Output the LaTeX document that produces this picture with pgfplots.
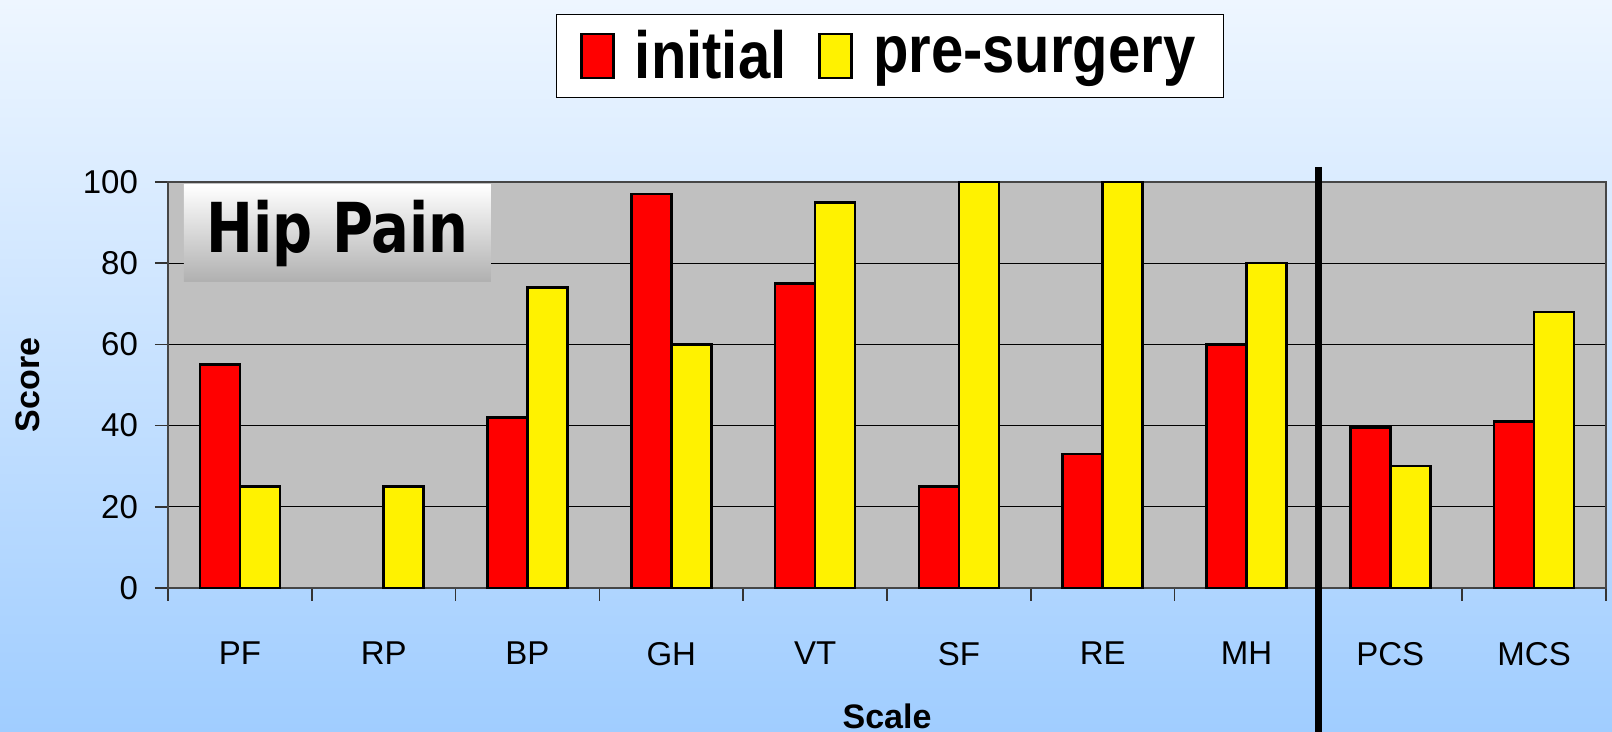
\documentclass[border=0pt]{standalone}
\usepackage{fontspec}
\setmainfont{Liberation Sans}
\newfontfamily\dejavu{DejaVu Sans}
\usepackage{pgfplots}
\pgfplotsset{compat=1.18}
\definecolor{bgtop}{RGB}{238,246,255}
\definecolor{bgbot}{RGB}{160,205,255}
\definecolor{plotgray}{RGB}{192,192,192}
\begin{document}
\begin{tikzpicture}
% background gradient (1px = 0.5pt)
\shade[top color=bgtop, bottom color=bgbot] (-84pt,-72pt) rectangle (722pt,294pt);
\begin{axis}[ybar=0pt, bar width=20pt, scale only axis, width=719pt, height=203pt,
    xmin=-0.5, xmax=9.5, ymin=0, ymax=100,
    xtick={-0.5,0.5,...,9.5}, x tick label as interval,
    xticklabels={PF,RP,BP,GH,VT,SF,RE,MH,PCS,MCS},
    ytick={0,20,...,100},
    xtick pos=bottom, ytick pos=left,
    tick align=outside, major tick length=6.5pt,
    tick style={gray!40!black, line width=0.8pt},
    axis background/.style={fill=plotgray},
    axis line style={gray!55!black, line width=1pt},
    ymajorgrids, major grid style={black, line width=0.5pt},
    tick label style={font=\fontsize{16.5}{20}\selectfont},
    /pgf/number format/assume math mode=true,
    xticklabel style={yshift=-17pt},
    yticklabel style={xshift=-5pt},
    xlabel={Scale}, ylabel={Score},
    every axis x label/.style={at={(axis description cs:0.5,-0.315)}, anchor=center,
        font=\fontsize{17}{20}\selectfont\bfseries},
    every axis y label/.style={at={(axis description cs:-0.0974,0.5)}, rotate=90, anchor=center,
        font=\fontsize{17}{20}\selectfont\bfseries},
    clip=false,
    legend columns=2,
    legend style={at={(0.502,1.31)}, anchor=center, draw=black, line width=0.6pt,
        fill=white, inner xsep=12pt, inner ysep=6pt,
        font=\fontsize{29}{34}\selectfont\bfseries, column sep=8pt},
    /tikz/every even column/.append style={column sep=14pt},
    legend image code/.code={\draw[#1, line width=1.3pt] (0pt,-11pt) rectangle (16pt,11pt);},
    ]
\addplot[fill=red, draw=black, line width=1.3pt] coordinates
    {(0,55) (2,42) (3,97) (4,75) (5,25) (6,33) (7,60) (8,39.5) (9,41)};
\addlegendentry{\scalebox{1}[1.15]{initial}}
\addplot[fill=yellow, draw=black, line width=1.3pt] coordinates
    {(0,25) (1,25) (2,74) (3,60) (4,95) (5,100) (6,100) (7,80) (8,30) (9,68)};
\addlegendentry{\scalebox{1}[1.15]{pre-surgery}}
\shade[top color=white, bottom color=gray!62] (axis cs:-0.389,99.3) rectangle (axis cs:1.746,75.4);
\node at (axis cs:0.679,87.4) {\dejavu\bfseries\fontsize{28}{32}\selectfont\scalebox{1}[1.23]{Hip Pain}};
\draw[black, line width=3.6pt] (axis cs:7.5,103.7) -- (axis cs:7.5,-40);
\end{axis}
\pgfresetboundingbox
\path (-84pt,-72pt) rectangle (722pt,294pt);
\end{tikzpicture}
\end{document}
